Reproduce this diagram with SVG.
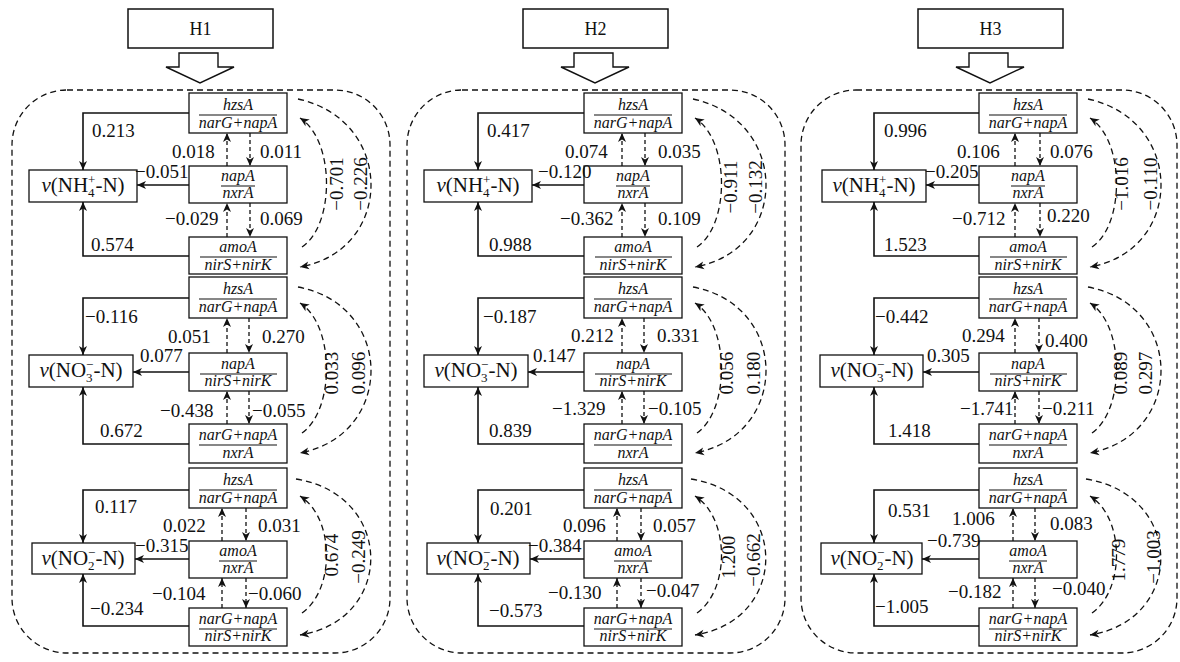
<svg xmlns="http://www.w3.org/2000/svg" width="1180" height="662" viewBox="0 0 1180 662">
<defs>
<style>
.box{fill:#fff;stroke:#111;stroke-width:1.3}
.tbox{fill:#fff;stroke:#111;stroke-width:1.5}
.hollow{fill:#fff;stroke:#111;stroke-width:1.4;stroke-linejoin:miter}
.frame{fill:none;stroke:#111;stroke-width:1.3;stroke-dasharray:6 4}
.fl{stroke:#111;stroke-width:1.1}
.gn{font-family:"Liberation Serif","Times New Roman",serif;font-style:italic;font-size:16px;text-anchor:middle;fill:#111}
.t{font-family:"Liberation Serif","Times New Roman",serif;font-size:19px;fill:#111}
.r{font-family:"Liberation Serif","Times New Roman",serif;font-size:19px;fill:#111;text-anchor:middle}
.ti{font-family:"Liberation Serif","Times New Roman",serif;font-size:18px;fill:#111;text-anchor:middle}
.vt{font-family:"Liberation Serif","Times New Roman",serif;font-size:21px;fill:#111;text-anchor:middle}
.solid{fill:none;stroke:#111;stroke-width:1.6;marker-end:url(#ah)}
.dash{fill:none;stroke:#111;stroke-width:1.3;stroke-dasharray:4 3;marker-end:url(#ah)}
.curve{fill:none;stroke:#111;stroke-width:1.3;stroke-dasharray:6 4;marker-end:url(#ah)}
</style>
<marker id="ah" markerUnits="userSpaceOnUse" markerWidth="12" markerHeight="10" refX="9" refY="4" orient="auto" overflow="visible">
<path d="M0,0 L9,4 L0,8 L2.5,4 Z" fill="#111"/>
</marker>
</defs>
<rect width="1180" height="662" fill="#fff"/>

<!-- ================= H1 ================= -->
<g id="H1" transform="translate(0,0)">
<g id="H1-title"><rect class="tbox" x="128" y="9" width="145" height="39"/><text class="ti" x="200.5" y="35">H1</text></g>
<polygon id="H1-bigarrow" class="hollow" points="179,53 218,53 218,67 234,67 200,83 166,67 179,67"/>
<rect id="H1-frame" class="frame" x="12" y="90" width="378" height="563" rx="55"/>

<g id="H1-s1-a"><rect class="box" x="189" y="93" width="98" height="40"/><text class="gn" x="238" y="110">hzsA</text><line class="fl" x1="199" y1="115" x2="277" y2="115"/><text class="gn" x="238" y="128">narG+napA</text></g>
<g id="H1-s1-b"><rect class="box" x="189" y="166" width="98" height="37"/><text class="gn" x="238" y="181">napA</text><line class="fl" x1="221" y1="186" x2="255" y2="186"/><text class="gn" x="238" y="198">nxrA</text></g>
<g id="H1-s1-c"><rect class="box" x="189" y="237" width="98" height="37"/><text class="gn" x="238" y="252">amoA</text><line class="fl" x1="200" y1="257" x2="277" y2="257"/><text class="gn" x="238" y="270">nirS+nirK</text></g>
<g id="H1-s1-v"><rect class="box" x="29" y="170" width="108" height="32"/><text class="vt" x="83" y="192"><tspan font-style="italic">v</tspan>(NH<tspan font-size="13" dy="5">4</tspan><tspan font-size="13" dx="-6.5" dy="-13">+</tspan><tspan dy="8">-N)</tspan></text></g>

<g id="H1-s2-a"><rect class="box" x="189" y="277" width="98" height="41"/><text class="gn" x="238" y="294">hzsA</text><line class="fl" x1="199" y1="299" x2="277" y2="299"/><text class="gn" x="238" y="312">narG+napA</text></g>
<g id="H1-s2-b"><rect class="box" x="189" y="353" width="98" height="38"/><text class="gn" x="238" y="369">napA</text><line class="fl" x1="200" y1="374" x2="277" y2="374"/><text class="gn" x="238" y="386">nirS+nirK</text></g>
<g id="H1-s2-c"><rect class="box" x="189" y="424" width="98" height="39"/><text class="gn" x="238" y="440">narG+napA</text><line class="fl" x1="199" y1="445" x2="277" y2="445"/><text class="gn" x="238" y="458">nxrA</text></g>
<g id="H1-s2-v"><rect class="box" x="29" y="355" width="104" height="32"/><text class="vt" x="81" y="377"><tspan font-style="italic">v</tspan>(NO<tspan font-size="13" dy="5">3</tspan><tspan font-size="13" dx="-6.5" dy="-13">−</tspan><tspan dy="8">-N)</tspan></text></g>

<g id="H1-s3-a"><rect class="box" x="189" y="468" width="98" height="40"/><text class="gn" x="238" y="485">hzsA</text><line class="fl" x1="199" y1="490" x2="277" y2="490"/><text class="gn" x="238" y="503">narG+napA</text></g>
<g id="H1-s3-b"><rect class="box" x="189" y="541" width="98" height="37"/><text class="gn" x="238" y="556">amoA</text><line class="fl" x1="219" y1="561" x2="257" y2="561"/><text class="gn" x="238" y="573">nxrA</text></g>
<g id="H1-s3-c"><rect class="box" x="189" y="608" width="98" height="38"/><text class="gn" x="238" y="624">narG+napA</text><line class="fl" x1="199" y1="629" x2="277" y2="629"/><text class="gn" x="238" y="641">nirS+nirK</text></g>
<g id="H1-s3-v"><rect class="box" x="32" y="543" width="103" height="31"/><text class="vt" x="83" y="565"><tspan font-style="italic">v</tspan>(NO<tspan font-size="13" dy="5">2</tspan><tspan font-size="13" dx="-6.5" dy="-13">−</tspan><tspan dy="8">-N)</tspan></text></g>

<g id="H1-connectors">
<path class="solid" d="M189,113 H83 V170"/><path class="solid" d="M189,185 H137"/><path class="solid" d="M189,256 H83 V202"/>
<path class="dash" d="M227,166 V133"/><path class="dash" d="M250,133 V166"/><path class="dash" d="M227,237 V203"/><path class="dash" d="M250,203 V237"/>
<path class="curve" d="M302,247 C335,225 335,140 300,118"/><path class="curve" d="M298,99 C395,120 395,250 300,267"/>
<path class="solid" d="M189,298 H83 V355"/><path class="solid" d="M189,372 H133"/><path class="solid" d="M189,444 H83 V387"/>
<path class="dash" d="M227,353 V318"/><path class="dash" d="M249,318 V353"/><path class="dash" d="M227,424 V391"/><path class="dash" d="M249,391 V424"/>
<path class="curve" d="M302,433 C335,410 335,325 300,303"/><path class="curve" d="M298,287 C395,305 395,435 300,453"/>
<path class="solid" d="M189,490 H83 V543"/><path class="solid" d="M189,559 H135"/><path class="solid" d="M189,626 H83 V574"/>
<path class="dash" d="M222,541 V508"/><path class="dash" d="M246,508 V541"/><path class="dash" d="M222,608 V578"/><path class="dash" d="M246,578 V608"/>
<path class="curve" d="M302,613 C335,590 335,518 300,496"/><path class="curve" d="M296,479 C395,495 395,620 300,635"/>
</g>
<g id="H1-labels">
<text class="t" x="92" y="137">0.213</text><text class="t" x="172" y="158">0.018</text><text class="t" x="260" y="158">0.011</text><text class="t" x="135" y="178">−0.051</text><text class="t" x="165" y="225">−0.029</text><text class="t" x="260" y="225">0.069</text><text class="t" x="91" y="251">0.574</text>
<text class="r" transform="translate(343,184) rotate(-90)">−0.701</text><text class="r" transform="translate(367,184) rotate(-90)">−0.226</text>
<text class="t" x="85" y="323">−0.116</text><text class="t" x="168" y="343">0.051</text><text class="t" x="262" y="343">0.270</text><text class="t" x="140" y="362">0.077</text><text class="t" x="160" y="417">−0.438</text><text class="t" x="252" y="417">−0.055</text><text class="t" x="100" y="437">0.672</text>
<text class="r" transform="translate(338,373) rotate(-90)">0.033</text><text class="r" transform="translate(365,373) rotate(-90)">0.096</text>
<text class="t" x="95" y="513">0.117</text><text class="t" x="163" y="532">0.022</text><text class="t" x="258" y="532">0.031</text><text class="t" x="135" y="552">−0.315</text><text class="t" x="152" y="600">−0.104</text><text class="t" x="248" y="600">−0.060</text><text class="t" x="90" y="615">−0.234</text>
<text class="r" transform="translate(338,555) rotate(-90)">0.674</text><text class="r" transform="translate(365,557) rotate(-90)">−0.249</text>
</g>
</g>

<!-- ================= H2 ================= -->
<g id="H2" transform="translate(395,0)">
<g id="H2-title"><rect class="tbox" x="128" y="9" width="145" height="39"/><text class="ti" x="200.5" y="35">H2</text></g>
<polygon id="H2-bigarrow" class="hollow" points="179,53 218,53 218,67 234,67 200,83 166,67 179,67"/>
<rect id="H2-frame" class="frame" x="12" y="90" width="378" height="563" rx="55"/>

<g id="H2-s1-a"><rect class="box" x="189" y="93" width="98" height="40"/><text class="gn" x="238" y="110">hzsA</text><line class="fl" x1="199" y1="115" x2="277" y2="115"/><text class="gn" x="238" y="128">narG+napA</text></g>
<g id="H2-s1-b"><rect class="box" x="189" y="166" width="98" height="37"/><text class="gn" x="238" y="181">napA</text><line class="fl" x1="221" y1="186" x2="255" y2="186"/><text class="gn" x="238" y="198">nxrA</text></g>
<g id="H2-s1-c"><rect class="box" x="189" y="237" width="98" height="37"/><text class="gn" x="238" y="252">amoA</text><line class="fl" x1="200" y1="257" x2="277" y2="257"/><text class="gn" x="238" y="270">nirS+nirK</text></g>
<g id="H2-s1-v"><rect class="box" x="29" y="170" width="108" height="32"/><text class="vt" x="83" y="192"><tspan font-style="italic">v</tspan>(NH<tspan font-size="13" dy="5">4</tspan><tspan font-size="13" dx="-6.5" dy="-13">+</tspan><tspan dy="8">-N)</tspan></text></g>

<g id="H2-s2-a"><rect class="box" x="189" y="277" width="98" height="41"/><text class="gn" x="238" y="294">hzsA</text><line class="fl" x1="199" y1="299" x2="277" y2="299"/><text class="gn" x="238" y="312">narG+napA</text></g>
<g id="H2-s2-b"><rect class="box" x="189" y="353" width="98" height="38"/><text class="gn" x="238" y="369">napA</text><line class="fl" x1="200" y1="374" x2="277" y2="374"/><text class="gn" x="238" y="386">nirS+nirK</text></g>
<g id="H2-s2-c"><rect class="box" x="189" y="424" width="98" height="39"/><text class="gn" x="238" y="440">narG+napA</text><line class="fl" x1="199" y1="445" x2="277" y2="445"/><text class="gn" x="238" y="458">nxrA</text></g>
<g id="H2-s2-v"><rect class="box" x="29" y="355" width="104" height="32"/><text class="vt" x="81" y="377"><tspan font-style="italic">v</tspan>(NO<tspan font-size="13" dy="5">3</tspan><tspan font-size="13" dx="-6.5" dy="-13">−</tspan><tspan dy="8">-N)</tspan></text></g>

<g id="H2-s3-a"><rect class="box" x="189" y="468" width="98" height="40"/><text class="gn" x="238" y="485">hzsA</text><line class="fl" x1="199" y1="490" x2="277" y2="490"/><text class="gn" x="238" y="503">narG+napA</text></g>
<g id="H2-s3-b"><rect class="box" x="189" y="541" width="98" height="37"/><text class="gn" x="238" y="556">amoA</text><line class="fl" x1="219" y1="561" x2="257" y2="561"/><text class="gn" x="238" y="573">nxrA</text></g>
<g id="H2-s3-c"><rect class="box" x="189" y="608" width="98" height="38"/><text class="gn" x="238" y="624">narG+napA</text><line class="fl" x1="199" y1="629" x2="277" y2="629"/><text class="gn" x="238" y="641">nirS+nirK</text></g>
<g id="H2-s3-v"><rect class="box" x="32" y="543" width="103" height="31"/><text class="vt" x="83" y="565"><tspan font-style="italic">v</tspan>(NO<tspan font-size="13" dy="5">2</tspan><tspan font-size="13" dx="-6.5" dy="-13">−</tspan><tspan dy="8">-N)</tspan></text></g>

<g id="H2-connectors">
<path class="solid" d="M189,113 H83 V170"/><path class="solid" d="M189,185 H137"/><path class="solid" d="M189,256 H83 V202"/>
<path class="dash" d="M227,166 V133"/><path class="dash" d="M250,133 V166"/><path class="dash" d="M227,237 V203"/><path class="dash" d="M250,203 V237"/>
<path class="curve" d="M302,247 C335,225 335,140 300,118"/><path class="curve" d="M298,99 C395,120 395,250 300,267"/>
<path class="solid" d="M189,298 H83 V355"/><path class="solid" d="M189,372 H133"/><path class="solid" d="M189,444 H83 V387"/>
<path class="dash" d="M227,353 V318"/><path class="dash" d="M249,318 V353"/><path class="dash" d="M227,424 V391"/><path class="dash" d="M249,391 V424"/>
<path class="curve" d="M302,433 C335,410 335,325 300,303"/><path class="curve" d="M298,287 C395,305 395,435 300,453"/>
<path class="solid" d="M189,490 H83 V543"/><path class="solid" d="M189,559 H135"/><path class="solid" d="M189,626 H83 V574"/>
<path class="dash" d="M222,541 V508"/><path class="dash" d="M246,508 V541"/><path class="dash" d="M222,608 V578"/><path class="dash" d="M246,578 V608"/>
<path class="curve" d="M302,613 C335,590 335,518 300,496"/><path class="curve" d="M296,479 C395,495 395,620 300,635"/>
</g>
<g id="H2-labels">
<text class="t" x="92" y="137">0.417</text><text class="t" x="170" y="158">0.074</text><text class="t" x="263" y="158">0.035</text><text class="t" x="143" y="178">−0.120</text><text class="t" x="165" y="225">−0.362</text><text class="t" x="263" y="225">0.109</text><text class="t" x="94" y="251">0.988</text>
<text class="r" transform="translate(342,187) rotate(-90)">−0.911</text><text class="r" transform="translate(367,187) rotate(-90)">−0.132</text>
<text class="t" x="88" y="323">−0.187</text><text class="t" x="176" y="342">0.212</text><text class="t" x="262" y="342">0.331</text><text class="t" x="138" y="362">0.147</text><text class="t" x="157" y="415">−1.329</text><text class="t" x="253" y="415">−0.105</text><text class="t" x="94" y="437">0.839</text>
<text class="r" transform="translate(338,373) rotate(-90)">0.056</text><text class="r" transform="translate(365,373) rotate(-90)">0.180</text>
<text class="t" x="95" y="515">0.201</text><text class="t" x="168" y="532">0.096</text><text class="t" x="258" y="532">0.057</text><text class="t" x="133" y="552">−0.384</text><text class="t" x="153" y="599">−0.130</text><text class="t" x="251" y="597">−0.047</text><text class="t" x="94" y="617">−0.573</text>
<text class="r" transform="translate(340,557) rotate(-90)">1.200</text><text class="r" transform="translate(365,560) rotate(-90)">−0.662</text>
</g>
</g>

<!-- ================= H3 ================= -->
<g id="H3" transform="translate(790,0)">
<g id="H3-title"><rect class="tbox" x="128" y="9" width="145" height="39"/><text class="ti" x="200.5" y="35">H3</text></g>
<polygon id="H3-bigarrow" class="hollow" points="179,53 218,53 218,67 234,67 200,83 166,67 179,67"/>
<rect id="H3-frame" class="frame" x="11" y="90" width="376" height="563" rx="55"/>

<g id="H3-s1-a"><rect class="box" x="189" y="93" width="98" height="40"/><text class="gn" x="238" y="110">hzsA</text><line class="fl" x1="199" y1="115" x2="277" y2="115"/><text class="gn" x="238" y="128">narG+napA</text></g>
<g id="H3-s1-b"><rect class="box" x="189" y="166" width="98" height="37"/><text class="gn" x="238" y="181">napA</text><line class="fl" x1="221" y1="186" x2="255" y2="186"/><text class="gn" x="238" y="198">nxrA</text></g>
<g id="H3-s1-c"><rect class="box" x="189" y="237" width="98" height="37"/><text class="gn" x="238" y="252">amoA</text><line class="fl" x1="200" y1="257" x2="277" y2="257"/><text class="gn" x="238" y="270">nirS+nirK</text></g>
<g id="H3-s1-v"><rect class="box" x="32" y="170" width="104" height="32"/><text class="vt" x="84" y="192"><tspan font-style="italic">v</tspan>(NH<tspan font-size="13" dy="5">4</tspan><tspan font-size="13" dx="-6.5" dy="-13">+</tspan><tspan dy="8">-N)</tspan></text></g>

<g id="H3-s2-a"><rect class="box" x="189" y="277" width="98" height="41"/><text class="gn" x="238" y="294">hzsA</text><line class="fl" x1="199" y1="299" x2="277" y2="299"/><text class="gn" x="238" y="312">narG+napA</text></g>
<g id="H3-s2-b"><rect class="box" x="189" y="353" width="98" height="38"/><text class="gn" x="238" y="369">napA</text><line class="fl" x1="200" y1="374" x2="277" y2="374"/><text class="gn" x="238" y="386">nirS+nirK</text></g>
<g id="H3-s2-c"><rect class="box" x="189" y="424" width="98" height="39"/><text class="gn" x="238" y="440">narG+napA</text><line class="fl" x1="199" y1="445" x2="277" y2="445"/><text class="gn" x="238" y="458">nxrA</text></g>
<g id="H3-s2-v"><rect class="box" x="30" y="355" width="103" height="32"/><text class="vt" x="82" y="377"><tspan font-style="italic">v</tspan>(NO<tspan font-size="13" dy="5">3</tspan><tspan font-size="13" dx="-6.5" dy="-13">−</tspan><tspan dy="8">-N)</tspan></text></g>

<g id="H3-s3-a"><rect class="box" x="189" y="468" width="98" height="40"/><text class="gn" x="238" y="485">hzsA</text><line class="fl" x1="199" y1="490" x2="277" y2="490"/><text class="gn" x="238" y="503">narG+napA</text></g>
<g id="H3-s3-b"><rect class="box" x="189" y="541" width="98" height="37"/><text class="gn" x="238" y="556">amoA</text><line class="fl" x1="219" y1="561" x2="257" y2="561"/><text class="gn" x="238" y="573">nxrA</text></g>
<g id="H3-s3-c"><rect class="box" x="189" y="608" width="98" height="38"/><text class="gn" x="238" y="624">narG+napA</text><line class="fl" x1="199" y1="629" x2="277" y2="629"/><text class="gn" x="238" y="641">nirS+nirK</text></g>
<g id="H3-s3-v"><rect class="box" x="31" y="543" width="101" height="31"/><text class="vt" x="82" y="565"><tspan font-style="italic">v</tspan>(NO<tspan font-size="13" dy="5">2</tspan><tspan font-size="13" dx="-6.5" dy="-13">−</tspan><tspan dy="8">-N)</tspan></text></g>

<g id="H3-connectors">
<path class="solid" d="M189,113 H84 V170"/><path class="solid" d="M189,185 H136"/><path class="solid" d="M189,256 H84 V202"/>
<path class="dash" d="M225,166 V133"/><path class="dash" d="M250,133 V166"/><path class="dash" d="M225,237 V203"/><path class="dash" d="M250,203 V237"/>
<path class="curve" d="M302,247 C335,225 335,140 300,118"/><path class="curve" d="M298,99 C395,120 395,250 300,267"/>
<path class="solid" d="M189,298 H84 V355"/><path class="solid" d="M189,372 H133"/><path class="solid" d="M189,444 H84 V387"/>
<path class="dash" d="M225,353 V318"/><path class="dash" d="M249,318 V353"/><path class="dash" d="M225,424 V391"/><path class="dash" d="M249,391 V424"/>
<path class="curve" d="M302,433 C335,410 335,325 300,303"/><path class="curve" d="M298,287 C395,305 395,435 300,453"/>
<path class="solid" d="M189,490 H84 V543"/><path class="solid" d="M189,559 H132"/><path class="solid" d="M189,626 H84 V574"/>
<path class="dash" d="M223,541 V508"/><path class="dash" d="M245,508 V541"/><path class="dash" d="M223,608 V578"/><path class="dash" d="M245,578 V608"/>
<path class="curve" d="M302,613 C335,590 335,518 300,496"/><path class="curve" d="M296,479 C395,495 395,620 300,635"/>
</g>
<g id="H3-labels">
<text class="t" x="94" y="137">0.996</text><text class="t" x="167" y="158">0.106</text><text class="t" x="260" y="158">0.076</text><text class="t" x="135" y="178">−0.205</text><text class="t" x="162" y="225">−0.712</text><text class="t" x="257" y="222">0.220</text><text class="t" x="94" y="251">1.523</text>
<text class="r" transform="translate(338,184) rotate(-90)">−1.016</text><text class="r" transform="translate(367,184) rotate(-90)">−0.110</text>
<text class="t" x="85" y="323">−0.442</text><text class="t" x="172" y="342">0.294</text><text class="t" x="255" y="347">0.400</text><text class="t" x="137" y="362">0.305</text><text class="t" x="170" y="415">−1.741</text><text class="t" x="252" y="415">−0.211</text><text class="t" x="98" y="437">1.418</text>
<text class="r" transform="translate(337,373) rotate(-90)">0.089</text><text class="r" transform="translate(362,373) rotate(-90)">0.297</text>
<text class="t" x="98" y="517">0.531</text><text class="t" x="162" y="525">1.006</text><text class="t" x="260" y="530">0.083</text><text class="t" x="137" y="547">−0.739</text><text class="t" x="158" y="598">−0.182</text><text class="t" x="262" y="595">−0.040</text><text class="t" x="85" y="613">−1.005</text>
<text class="r" transform="translate(335,560) rotate(-90)">1.779</text><text class="r" transform="translate(370,557) rotate(-90)">−1.003</text>
</g>
</g>
</svg>
